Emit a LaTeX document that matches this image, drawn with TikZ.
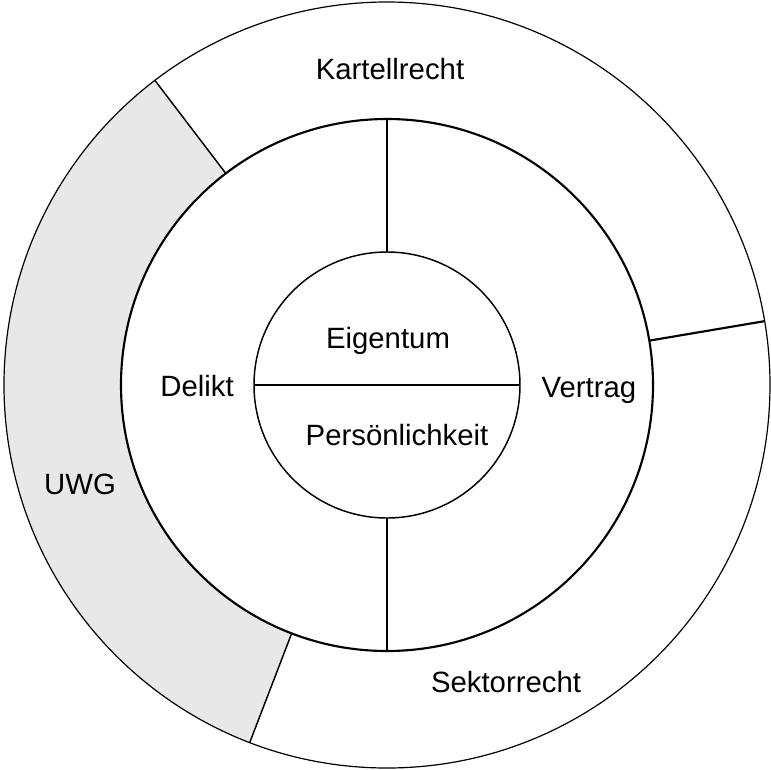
\documentclass[tikz,border=0pt]{standalone}
\usepackage{fontspec}
\setmainfont{Liberation Sans}

\begin{document}
\begin{tikzpicture}[every node/.style={font=\fontsize{22}{24}\selectfont, anchor=base}, x=0.75pt, y=0.75pt, ring/.style={line width=1.6pt}, cut/.style={line width=1.1pt}]
	\useasboundingbox (-387,-384) rectangle (384,385);
	% outer ring, UWG sector shaded
	\fill[black!9] (127.3:266) arc[start angle=127.3, end angle=249, radius=266] -- (249:383) arc[start angle=249, end angle=127.3, radius=383] -- cycle;
	\draw[line width=0.9pt] (0,0) circle[radius=383];
	\foreach \a in {127.3,249} {\draw[cut] (\a:266) -- (\a:383);}
	\draw[ring] (9.6:266) -- (9.6:383);
	% middle and inner ring
	\draw[ring] (0,0) circle[radius=266];
	\draw[cut] (0,0) circle[radius=133];
	\draw[cut] (90:133) -- (90:266) (270:133) -- (270:266) (180:133) -- (0:133);
	\node (kartell) at (3,306) {Kartellrecht};
	\node (uwg) at (-307,-109) {UWG};
	\node (sektor) at (119,-307) {Sektorrecht};
	\node (delikt) at (-190,-11) {Delikt};
	\node (vertrag) at (202,-12) {Vertrag};
	\node (eigentum) at (1,37) {Eigentum};
	\node (pers) at (10,-60) {Persönlichkeit};
\end{tikzpicture}
\end{document}
